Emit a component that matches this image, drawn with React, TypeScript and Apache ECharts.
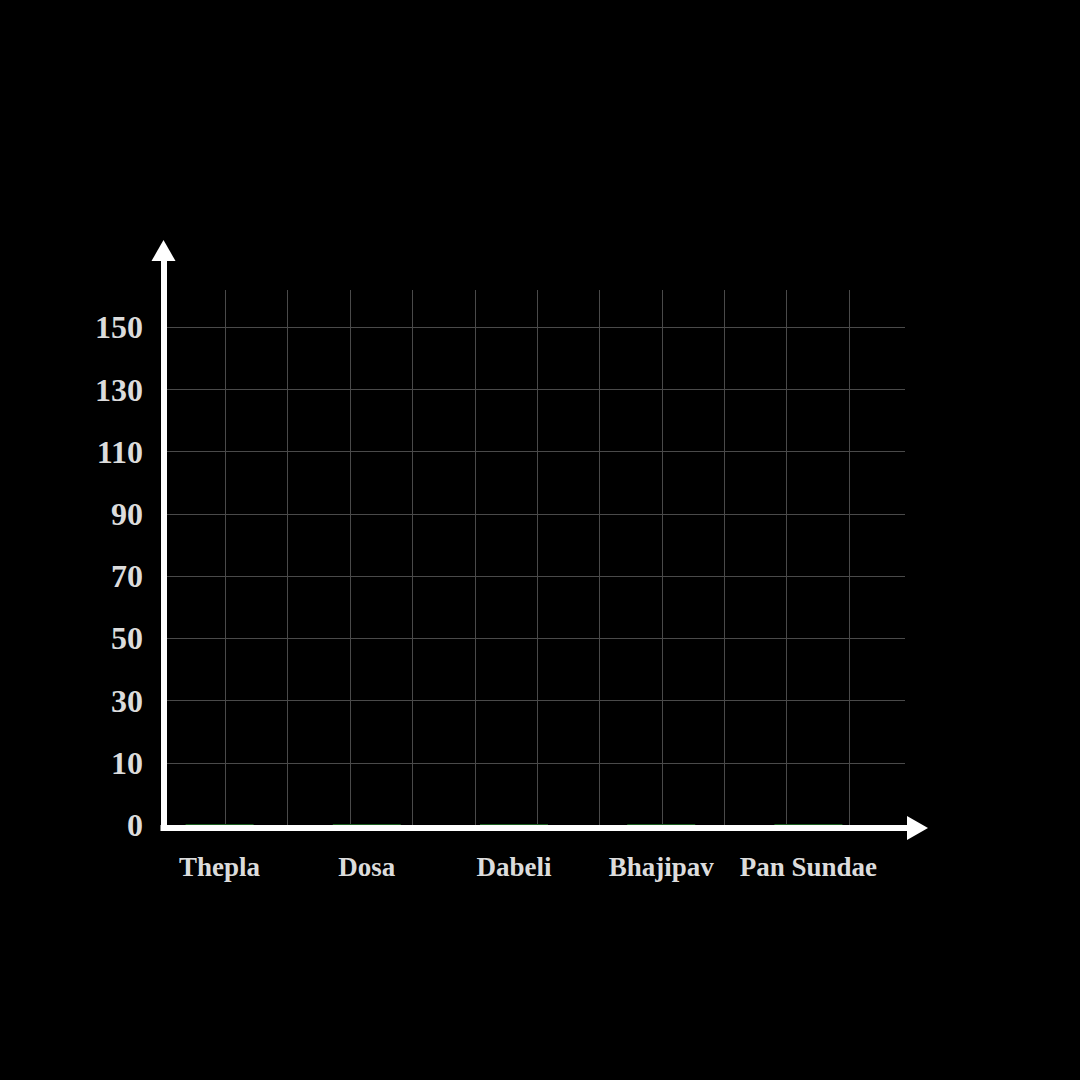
import { useEffect, useRef } from 'react';
import * as echarts from 'echarts';

// Chart data
const categories = ['Thepla', 'Dosa', 'Dabeli', 'Bhajipav', 'Pan Sundae'];
const sales = [0, 0, 0, 0, 0];
const yTickLabels = ['0', '10', '30', '50', '70', '90', '110', '130', '150'];

const FONT = '"Liberation Serif", "DejaVu Serif", serif';
const LABEL_COLOR = '#dcdcdc';
const GRID_COLOR = '#4a4a4a';

export default function App() {
  const chartRef = useRef<HTMLDivElement>(null);

  useEffect(() => {
    document.body.style.margin = '0';
    document.body.style.background = '#000';
    if (!chartRef.current) return;
    const chart = echarts.init(chartRef.current, null, { renderer: 'svg' });

    // y runs in tick steps: one step per label
    const yMax = 8.6;
    const xMax = 11.9;

    const option = {
      animation: false,
      backgroundColor: '#000',
      grid: [
        // grid lines + y labels
        { left: 163, right: 175, top: 290, bottom: 255 },
        // axis lines with arrows
        { left: 163.5, right: 173, top: 261, bottom: 252 },
        // bars + category labels
        { left: 146, right: 198, top: 290, bottom: 255 },
      ],
      xAxis: [
        {
          gridIndex: 0,
          type: 'value',
          min: 0,
          max: xMax,
          interval: 1,
          axisLine: { show: false },
          axisTick: { show: false },
          axisLabel: { show: false },
          splitLine: {
            show: true,
            showMinLine: false,
            showMaxLine: false,
            lineStyle: { color: GRID_COLOR, width: 1 },
          },
        },
        {
          gridIndex: 1,
          type: 'value',
          min: 0,
          max: 1,
          z: 5,
          axisLine: {
            show: true,
            symbol: ['none', 'triangle'],
            symbolSize: [24, 21],
            symbolOffset: [0, 10.5],
            lineStyle: { color: '#fff', width: 6, cap: 'square' },
          },
          axisTick: { show: false },
          axisLabel: { show: false },
          splitLine: { show: false },
        },
        {
          gridIndex: 2,
          type: 'category',
          data: categories,
          axisLine: { show: false },
          axisTick: { show: false },
          axisLabel: {
            interval: 0,
            margin: 28,
            color: LABEL_COLOR,
            fontFamily: FONT,
            fontWeight: 'bold',
            fontSize: 27,
          },
          splitLine: { show: false },
        },
      ],
      yAxis: [
        {
          gridIndex: 0,
          type: 'value',
          min: 0,
          max: yMax,
          interval: 1,
          axisLine: { show: false },
          axisTick: { show: false },
          axisLabel: {
            margin: 20,
            showMaxLabel: false,
            color: LABEL_COLOR,
            fontFamily: FONT,
            fontWeight: 'bold',
            fontSize: 32,
            formatter: (v: number) => yTickLabels[v] ?? '',
          },
          splitLine: {
            show: true,
            showMinLine: false,
            showMaxLine: false,
            lineStyle: { color: GRID_COLOR, width: 1 },
          },
        },
        {
          gridIndex: 1,
          type: 'value',
          min: 0,
          max: 1,
          z: 5,
          axisLine: {
            show: true,
            symbol: ['none', 'triangle'],
            symbolSize: [24, 21],
            symbolOffset: [0, 10.5],
            lineStyle: { color: '#fff', width: 6, cap: 'square' },
          },
          axisTick: { show: false },
          axisLabel: { show: false },
          splitLine: { show: false },
        },
        {
          gridIndex: 2,
          type: 'value',
          min: 0,
          max: yMax,
          show: false,
        },
      ],
      series: [
        {
          type: 'bar',
          xAxisIndex: 2,
          yAxisIndex: 2,
          data: sales,
          barWidth: 68,
          barMinHeight: 1,
          itemStyle: { color: '#1b5e20' },
        },
      ],
    };

    chart.setOption(option);
    return () => {
      chart.dispose();
    };
  }, []);

  return <div ref={chartRef} style={{ width: '1080px', height: '1080px' }}></div>;
}
